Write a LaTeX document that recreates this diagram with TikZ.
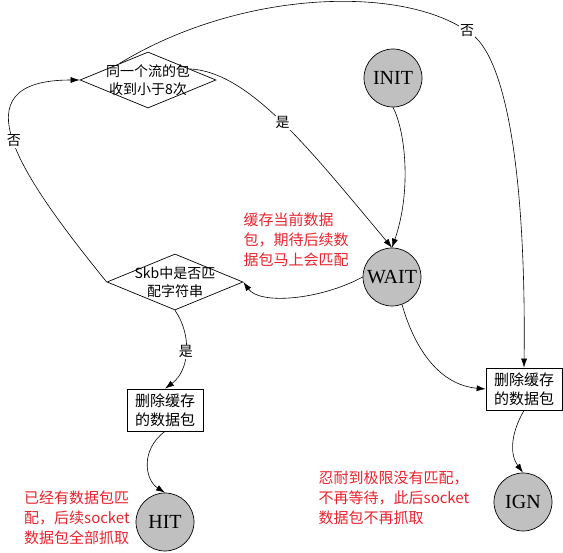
\documentclass[tikz,border=0pt]{standalone}
\usepackage{fontspec}
\setmainfont{Liberation Serif}
\newfontfamily\cjk{Noto Sans CJK SC}
\usetikzlibrary{arrows.meta,shapes.geometric}
\definecolor{Silver}{HTML}{C0C0C0}
\definecolor{NoteRed}{HTML}{E8232B}

\begin{document}
\begin{tikzpicture}[
  x=1pt,y=-1pt,
  state/.style={circle,draw=black,line width=0.7pt,fill=Silver,minimum size=58pt,inner sep=0pt,font=\fontsize{20}{24}\selectfont},
  decision/.style={diamond,draw=black,line width=0.7pt,minimum width=136pt,minimum height=56pt,inner sep=0pt},
  dtext/.style={font=\cjk\fontsize{14}{18}\selectfont,align=center},
  box/.style={rectangle,draw=black,line width=0.7pt,minimum width=76pt,minimum height=42pt,inner sep=1pt,align=center,font=\cjk\fontsize{15}{19}\selectfont},
  note/.style={align=left,text=NoteRed,inner sep=0pt,font=\cjk\fontsize{15}{20}\selectfont},
  arrow/.style={-{Latex[length=9pt,width=6pt]},line width=0.6pt,draw=black},
  cond/.style={fill=white,inner sep=1pt,font=\cjk\fontsize{14}{16}\selectfont}
]
\useasboundingbox (0,0) rectangle (563,553);
\node[state] (init) at (393,78) {INIT};
\node[state] (wait) at (392,277) {WAIT};
\node[state] (hit) at (165,522) {HIT};
\node[state] (ign) at (523,502) {IGN};
\node[decision,label={[dtext]center:同一个流的包\\收到小于8次}] (count) at (148,80) {};
\node[decision,label={[dtext]center:Skb中是否匹\\配字符串}] (match) at (175,282) {};
\node[box] (dropa) at (165,410) {删除缓存\\的数据包};
\node[box] (dropb) at (524,389) {删除缓存\\的数据包};
\node[note] (waitnote) at (296,240) {缓存当前数据\\包，期待后续数\\据包马上会匹配};
\node[note] (hitnote) at (77,518) {已经有数据包匹\\配，后续socket\\数据包全部抓取};
\node[note] (ignnote) at (394,498) {忍耐到极限没有匹配，\\不再等待，此后socket\\数据包不再抓取};
\draw[arrow] (init.south) .. controls (405,130) and (412,190) .. (wait.north);
\draw[arrow] (count.15) .. controls (250,72) and (310,150) .. (wait.north) node[cond,pos=0.5] {是};
\draw[arrow] (count.150) .. controls (240,-10) and (400,-15) .. (467,31) node[cond,pos=1] {否} .. controls (511,54) and (526,200) .. (dropb.north);
\draw[arrow] (wait.west) .. controls (320,300) and (260,305) .. (match.east);
\draw[arrow] (match.west) .. controls (20,175) and (-45,80) .. (count.west) node[cond,pos=0.5] {否};
\draw[arrow] (match.south) .. controls (192,335) and (190,370) .. (dropa.north) node[cond,pos=0.5] {是};
\draw[arrow] (dropa.south) .. controls (140,450) and (145,480) .. (hit.north);
\draw[arrow] (wait.-70) .. controls (415,350) and (440,385) .. (dropb.west);
\draw[arrow] (dropb.south) .. controls (510,435) and (510,455) .. (ign.north);
\end{tikzpicture}
\end{document}
